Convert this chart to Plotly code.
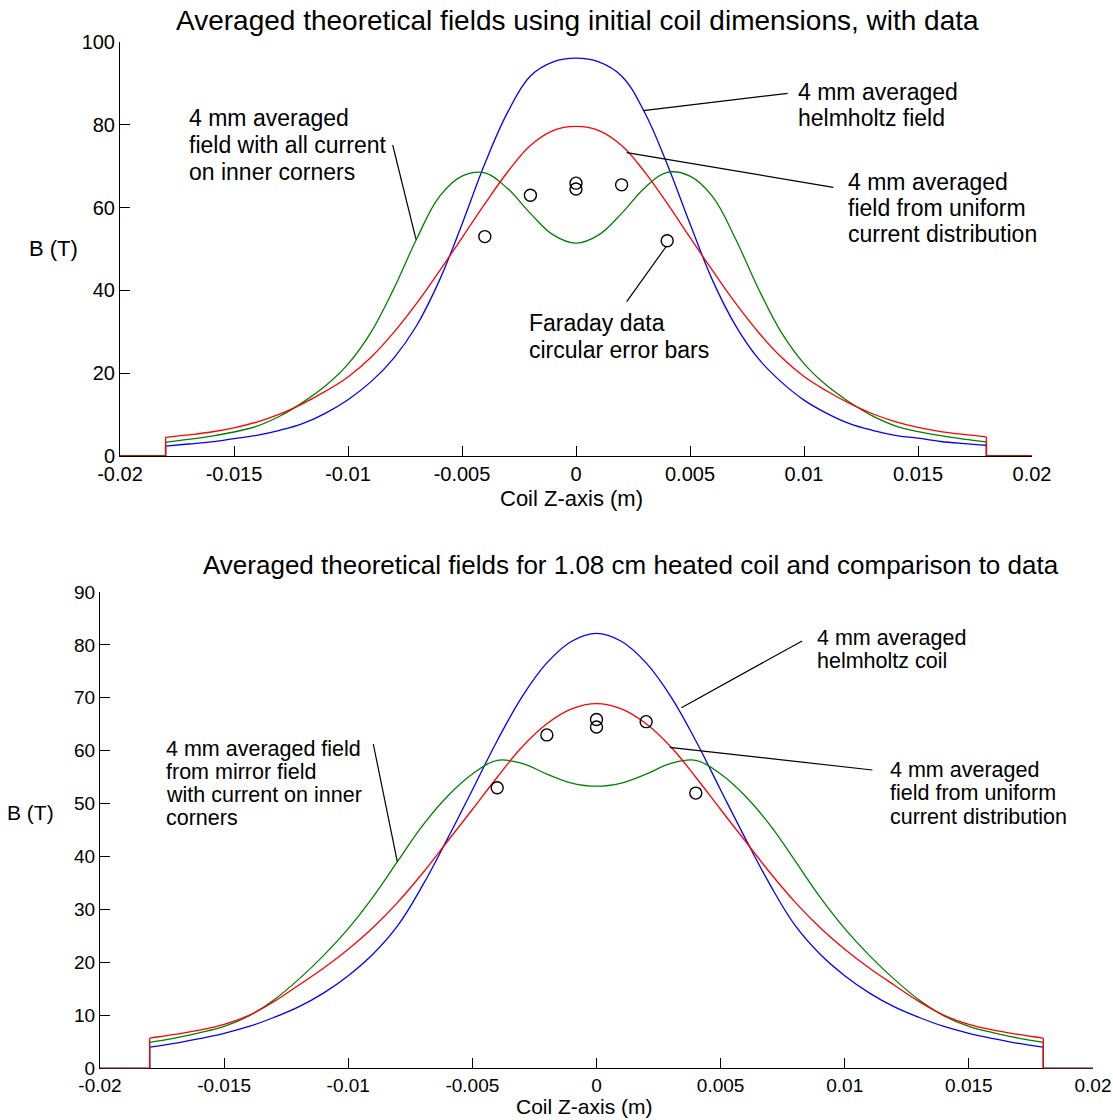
import plotly.graph_objects as go

# ---------------- data ----------------
z_edges = [-0.02, 0.02]
z_coil = [-0.018, -0.017, -0.016, -0.015, -0.014, -0.013, -0.012, -0.011, -0.010,
          -0.009, -0.008, -0.007, -0.006, -0.005, -0.004, -0.003, -0.002, -0.001,
          0.0, 0.001, 0.002, 0.003, 0.004, 0.005, 0.006, 0.007, 0.008, 0.009,
          0.010, 0.011, 0.012, 0.013, 0.014, 0.015, 0.016, 0.017, 0.018]

# top panel: initial coil dimensions
top_helmholtz = [2.4, 2.9, 3.4, 4.2, 5.0, 6.2, 7.8, 10.3, 13.6, 17.9, 23.6, 31.4, 42.3, 56.0,
                 70.6, 83.0, 91.8, 95.2, 96.1,
                 95.2, 91.8, 83.1, 70.5, 56.1, 42.3, 31.5, 23.5, 17.9, 13.5, 10.3, 7.8, 6.2,
                 5.0, 4.3, 3.5, 3.0, 2.6]
top_uniform = [4.5, 5.1, 5.8, 6.8, 8.2, 10.1, 12.6, 15.6, 19.1, 23.8, 29.8, 36.8, 44.6, 52.7,
               60.9, 68.6, 75.0, 78.6, 79.6,
               78.6, 75.0, 68.7, 61.0, 52.8, 44.7, 36.9, 29.9, 23.9, 19.2, 15.7, 12.7, 10.2,
               8.3, 6.9, 5.9, 5.2, 4.6]
top_corners = [3.3, 4.0, 4.8, 5.8, 7.2, 9.6, 12.9, 16.9, 22.2, 29.8, 40.3, 52.3, 62.6, 67.6,
               68.4, 64.6, 58.6, 53.4, 51.4,
               53.4, 58.6, 64.7, 68.5, 67.6, 62.6, 52.4, 40.4, 29.9, 22.3, 17.0, 13.0, 9.7,
               7.3, 5.9, 4.9, 4.1, 3.4]

# bottom panel: 1.08 cm heated coil
bot_helmholtz = [4.0, 4.7, 5.6, 6.6, 7.9, 9.6, 11.6, 14.2, 17.5, 21.6, 27.0, 34.6, 43.4, 52.6,
                 61.9, 70.2, 76.6, 80.7, 82.2,
                 80.7, 76.6, 70.2, 61.9, 52.6, 43.4, 34.6, 27.0, 21.6, 17.5, 14.2, 11.6, 9.6,
                 7.9, 6.6, 5.6, 4.7, 4.0]
bot_uniform = [5.7, 6.4, 7.2, 8.3, 10.0, 12.6, 15.7, 18.9, 22.5, 26.6, 31.4, 36.9, 42.9, 48.9,
               55.0, 60.7, 65.1, 67.9, 68.9,
               67.9, 65.1, 60.7, 55.0, 48.9, 42.9, 36.9, 31.4, 26.6, 22.5, 18.9, 15.7, 12.6,
               10.0, 8.3, 7.2, 6.4, 5.7]
bot_mirror = [4.9, 5.7, 6.7, 7.9, 9.9, 12.9, 16.8, 21.3, 26.4, 32.4, 39.2, 45.9, 51.4, 55.6,
              58.2, 57.6, 55.6, 53.9, 53.3,
              53.9, 55.6, 57.6, 58.2, 55.6, 51.4, 45.9, 39.2, 32.4, 26.4, 21.3, 16.8, 12.9,
              9.9, 7.9, 6.7, 5.7, 4.9]

# Faraday rotation data
faraday_z = [-0.004, -0.002, 0.0, 0.0, 0.002, 0.004]
faraday_B = [53.0, 63.0, 65.9, 64.5, 65.5, 52.0]

x_tickvals = [-0.02, -0.015, -0.01, -0.005, 0, 0.005, 0.01, 0.015, 0.02]
x_ticktext = ["-0.02", "-0.015", "-0.01", "-0.005", "0", "0.005", "0.01", "0.015", "0.02"]
top_yticks = [0, 20, 40, 60, 80, 100]
bot_yticks = [0, 10, 20, 30, 40, 50, 60, 70, 80, 90]

BLUE, RED, GREEN = "#0000FF", "#FF0000", "#008000"
FONT = "Arial, Liberation Sans, sans-serif"
W, H = 1113, 1120


def fx(p):
    return p / W


def fy(p):
    return 1 - p / H


fig = go.Figure()


def add_panel(xa, ya, series):
    # curves (spline), then steps down to zero at coil ends, red drawn last
    for vals, col in series:
        fig.add_trace(go.Scatter(x=z_coil, y=vals, mode="lines", xaxis=xa, yaxis=ya,
                                 line=dict(color=col, width=1.3, shape="spline", smoothing=1.1),
                                 showlegend=False, hoverinfo="skip"))
        fig.add_trace(go.Scatter(x=[z_edges[0], z_coil[0], z_coil[0]], y=[0, 0, vals[0]],
                                 mode="lines", xaxis=xa, yaxis=ya,
                                 line=dict(color=col, width=1.3), showlegend=False,
                                 hoverinfo="skip"))
        fig.add_trace(go.Scatter(x=[z_coil[-1], z_coil[-1], z_edges[1]], y=[vals[-1], 0, 0],
                                 mode="lines", xaxis=xa, yaxis=ya,
                                 line=dict(color=col, width=1.3), showlegend=False,
                                 hoverinfo="skip"))
    fig.add_trace(go.Scatter(x=faraday_z, y=faraday_B, mode="markers", xaxis=xa, yaxis=ya,
                             marker=dict(symbol="circle-open", size=12, color="black",
                                         line=dict(width=1.4, color="black")),
                             showlegend=False, hoverinfo="skip"))


add_panel("x", "y", [(top_helmholtz, BLUE), (top_corners, GREEN), (top_uniform, RED)])
add_panel("x2", "y2", [(bot_helmholtz, BLUE), (bot_mirror, GREEN), (bot_uniform, RED)])

axis_common = dict(showline=True, linecolor="black", linewidth=1, ticks="inside",
                   ticklen=10, tickcolor="black", showgrid=False, zeroline=False,
                   mirror=False, layer="below traces", automargin=False)

fig.update_layout(
    width=W, height=H, margin=dict(l=0, r=0, t=0, b=0, autoexpand=False),
    paper_bgcolor="white", plot_bgcolor="white",
    font=dict(family=FONT, color="black"),
    xaxis=dict(domain=[fx(120), fx(1032)], range=z_edges, anchor="y",
               tickvals=x_tickvals, ticktext=x_ticktext,
               tickfont=dict(size=20, family=FONT), **axis_common),
    yaxis=dict(domain=[fy(456), fy(42)], range=[0, 100], anchor="x",
               tickvals=top_yticks, tickfont=dict(size=20, family=FONT), **axis_common),
    xaxis2=dict(domain=[fx(100), fx(1093)], range=z_edges, anchor="y2",
                tickvals=x_tickvals, ticktext=x_ticktext,
                tickfont=dict(size=19, family=FONT), **axis_common),
    yaxis2=dict(domain=[fy(1068.3), fy(592)], range=[0, 90], anchor="x2",
                tickvals=bot_yticks, tickfont=dict(size=19, family=FONT), **axis_common),
)

ann = []


def text(x, y, s, size, xanchor="left"):
    ann.append(dict(x=fx(x), y=fy(y), xref="paper", yref="paper", text=s, showarrow=False,
                    xanchor=xanchor, yanchor="middle", borderpad=0,
                    font=dict(size=size, family=FONT, color="black")))


# titles and axis labels
text(577, 20, "Averaged theoretical fields using initial coil dimensions, with data", 28, "center")
text(631, 565, "Averaged theoretical fields for 1.08 cm heated coil and comparison to data", 26, "center")
text(571, 498, "Coil Z-axis (m)", 22, "center")
text(585, 1106, "Coil Z-axis (m)", 21, "center")
text(53, 248, "B (T)", 22, "center")
text(30, 812, "B (T)", 21, "center")

# top panel labels
for i, s in enumerate(["4 mm averaged", "helmholtz field"]):
    text(797, 91.7 + 26.3 * i, s, 23)
for i, s in enumerate(["4 mm averaged", "field from uniform", "current distribution"]):
    text(847, 181.7 + 26.2 * i, s, 23)
for i, s in enumerate(["Faraday data", "circular error bars"]):
    text(528, 323.5 + 26.5 * i, s, 23)
for i, s in enumerate(["4 mm averaged", "field with all current", "on inner corners"]):
    text(188, 118.3 + 26.7 * i, s, 23)

# bottom panel labels
for i, s in enumerate(["4 mm averaged", "helmholtz coil"]):
    text(816, 637.5 + 23.5 * i, s, 21.5)
for i, s in enumerate(["4 mm averaged", "field from uniform", "current distribution"]):
    text(889, 770 + 23.3 * i, s, 21.5)
for i, s in enumerate(["4 mm averaged field", "from mirror field", "with current on inner",
                       "corners"]):
    text(165, 749.3 + 23 * i, s, 21.5)

fig.update_layout(annotations=ann)

# pointer lines (pixel positions of the label leaders)
pointers = [
    (643.3, 110.7, 787.7, 93.3),
    (626.7, 152.7, 833.3, 187.3),
    (626.7, 301.7, 666.5, 246.0),
    (392.7, 145.0, 416.0, 239.3),
    (681.4, 707.8, 802.1, 640.9),
    (669.6, 747.3, 872.4, 770.0),
    (373.3, 744.0, 397.3, 861.7),
]
for x0, y0, x1, y1 in pointers:
    fig.add_shape(type="line", xref="paper", yref="paper", x0=fx(x0), y0=fy(y0),
                  x1=fx(x1), y1=fy(y1), line=dict(color="black", width=1.2))

fig.write_html("out.html")
